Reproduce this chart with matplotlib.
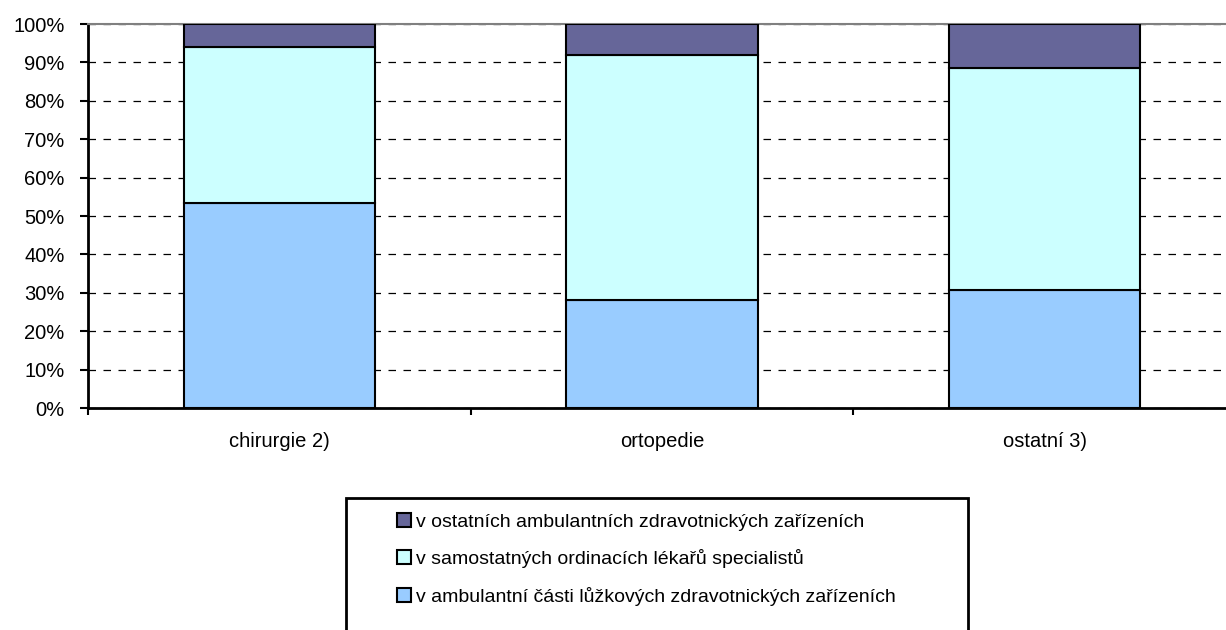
import matplotlib
matplotlib.use("Agg")
import matplotlib.pyplot as plt
from matplotlib.patches import Rectangle
import numpy as np

plt.rcParams['font.family'] = ['Liberation Sans', 'DejaVu Sans']

categories = ["chirurgie 2)", "ortopedie", "ostatní 3)"]
series_names = [
    "v ambulantní části lůžkových zdravotnických zařízeních",
    "v samostatných ordinacích lékařů specialistů",
    "v ostatních ambulantních zdravotnických zařízeních",
]
lozkova = [53.4, 28.1, 30.7]
samostatne = [40.6, 63.8, 57.8]
ostatni = [6.0, 8.1, 11.5]
colors = ["#99CCFF", "#CCFFFF", "#666699"]

W, H = 1226, 630
fig = plt.figure(figsize=(W / 100, H / 100), dpi=100)
# plot area runs slightly past the right edge of the picture (as in the original crop)
ax = fig.add_axes([88 / W, 1 - 408 / H, (1236 - 88) / W, (408 - 24) / H])

x = np.arange(len(categories))
bottom = np.zeros(len(categories))
handles = []
for vals, name, col in zip([lozkova, samostatne, ostatni], series_names, colors):
    b = ax.bar(x, vals, 0.5, bottom=bottom, color=col, edgecolor="black",
               linewidth=1.5, label=name, zorder=3)
    handles.append(b)
    bottom += np.array(vals)

ax.set_xlim(-0.5, len(categories) - 0.5)
ax.set_ylim(0, 100)
ax.set_yticks(range(0, 101, 10))
ax.set_yticklabels([f"{v}%" for v in range(0, 101, 10)], fontsize=14.5)
ax.yaxis.grid(True, color="black", linestyle=(0, (6, 6)), linewidth=0.9, zorder=0)
ax.set_axisbelow(True)

ax.set_xticks(x)
ax.set_xticklabels(categories, fontsize=14.5)
ax.tick_params(axis="x", which="major", length=0, pad=17)
ax.set_xticks(np.arange(-0.5, len(categories), 1), minor=True)
ax.tick_params(axis="x", which="minor", length=5, width=1.5, direction="out")
ax.tick_params(axis="y", length=6, width=1.5, direction="out", pad=11)

for s in ("left", "bottom"):
    ax.spines[s].set_linewidth(2)
    ax.spines[s].set_color("black")
ax.spines["top"].set_linewidth(1.5)
ax.spines["top"].set_color("#808080")
ax.spines["right"].set_visible(False)

# legend box (cut off at the bottom in the original)
fig.patches.append(Rectangle((346 / W, 1 - 660 / H), (968 - 346) / W, (660 - 498) / H,
                             transform=fig.transFigure, fill=False, edgecolor="black",
                             linewidth=2))
leg = fig.legend(handles[::-1], series_names[::-1], loc="upper left",
                 bbox_to_anchor=(389 / W, 1 - 505 / H), frameon=False, fontsize=14,
                 handlelength=0.75, handleheight=0.75, handletextpad=0.25,
                 labelspacing=0.95, borderaxespad=0)

fig.savefig("out.png", dpi=100)
